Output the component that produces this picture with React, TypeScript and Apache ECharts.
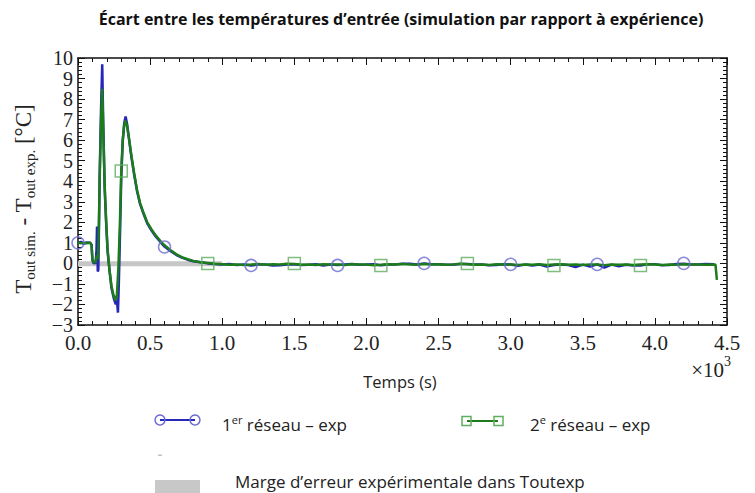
import React, { useEffect, useRef } from "react";
import * as echarts from "echarts";

// time (s), value (°C)
const blueEarly: [number, number][] = [
  [0, 1.0], [20, 1.05], [40, 0.95], [60, 1.02], [85, 1.0], [94, 0.9], [100, 0.15], [108, 0.0],
  [122, 0.02], [128, 0.6], [132, 1.8], [137, -0.4], [141, -0.3], [146, 2.0], [150, 4.2],
  [160, 7.6], [168, 9.7], [175, 6.8], [185, 3.6], [195, 2.0], [205, 0.6], [218, -0.3],
  [232, -1.2], [248, -1.7], [262, -2.0], [270, -1.8], [277, -2.4], [283, -1.0], [290, 1.0],
  [300, 4.2], [310, 5.9], [320, 6.8], [330, 7.15], [340, 6.8], [355, 6.0], [370, 5.2],
  [390, 4.3], [410, 3.5], [430, 2.9], [455, 2.4], [480, 1.95], [510, 1.6], [540, 1.3],
  [570, 1.05], [600, 0.82], [640, 0.6], [680, 0.42], [720, 0.28], [760, 0.18], [800, 0.1],
  [850, 0.05], [900, 0.0], [950, -0.03],
];
const blueTail: [number, number][] = [
  [1000, -0.05], [1050, -0.03], [1100, -0.08], [1150, -0.05], [1200, -0.1], [1250, -0.06],
  [1300, -0.06], [1350, -0.1], [1400, -0.09], [1450, -0.05], [1500, -0.04], [1550, -0.08],
  [1600, -0.07], [1650, -0.04], [1700, -0.1], [1750, -0.06], [1800, -0.08], [1850, -0.05],
  [1900, -0.03], [1950, -0.07], [2000, -0.06], [2050, -0.04], [2100, -0.09], [2150, -0.05],
  [2200, -0.05], [2250, -0.02], [2300, -0.02], [2350, -0.05], [2400, 0.0], [2450, -0.04],
  [2500, -0.04], [2550, -0.07], [2600, -0.07], [2650, -0.03], [2700, -0.03], [2750, -0.06],
  [2800, -0.06], [2850, -0.09], [2900, -0.08], [2950, -0.04], [3000, -0.05], [3050, -0.12],
  [3100, -0.06], [3150, -0.1], [3200, -0.06], [3250, -0.15], [3300, -0.08], [3350, -0.05],
  [3400, -0.08], [3450, -0.18], [3500, -0.06], [3550, -0.15], [3600, -0.05], [3650, -0.2],
  [3700, -0.06], [3750, -0.14], [3800, -0.07], [3850, -0.1], [3900, -0.1], [3950, -0.04],
  [4000, -0.04], [4050, -0.09], [4100, -0.08], [4150, -0.03], [4200, -0.02], [4250, -0.06],
  [4300, -0.06], [4350, -0.03], [4410, -0.04],
];
const greenEarly: [number, number][] = [
  [0, 1.0], [20, 0.98], [40, 1.0], [60, 0.98], [85, 1.0], [94, 0.9], [100, 0.2], [108, 0.05],
  [122, 0.05], [130, 0.4], [138, 0.2], [143, 1.2], [150, 4.0], [160, 7.0], [168, 8.5],
  [175, 6.6], [185, 3.8], [195, 2.1], [205, 0.7], [218, -0.3], [232, -1.1], [248, -1.6],
  [260, -1.8], [270, -1.5], [280, -0.2], [290, 1.8], [300, 4.5], [310, 6.0], [320, 6.7],
  [328, 6.95], [340, 6.7], [355, 6.0], [370, 5.25], [390, 4.35], [410, 3.55], [430, 2.95],
  [455, 2.45], [480, 2.0], [510, 1.65], [540, 1.35], [570, 1.1], [600, 0.88], [640, 0.65],
  [680, 0.45], [720, 0.3], [760, 0.2], [800, 0.12], [850, 0.06], [900, 0.02], [950, -0.02],
];
const greenTail: [number, number][] = [
  [1000, -0.04], [1050, -0.07], [1100, -0.05], [1150, -0.08], [1200, -0.06], [1250, -0.03],
  [1300, -0.07], [1350, -0.04], [1400, -0.06], [1450, -0.02], [1500, -0.03], [1550, -0.07],
  [1600, -0.05], [1650, -0.08], [1700, -0.04], [1750, -0.06], [1800, -0.05], [1850, -0.08],
  [1900, -0.04], [1950, -0.06], [2000, -0.05], [2050, -0.09], [2100, -0.07], [2150, -0.04],
  [2200, -0.06], [2250, -0.03], [2300, -0.05], [2350, -0.07], [2400, -0.03], [2450, -0.06],
  [2500, -0.04], [2550, -0.07], [2600, -0.05], [2650, -0.02], [2700, -0.04], [2750, -0.07],
  [2800, -0.05], [2850, -0.08], [2900, -0.04], [2950, -0.06], [3000, -0.05], [3050, -0.08],
  [3100, -0.05], [3150, -0.07], [3200, -0.04], [3250, -0.08], [3300, -0.06], [3350, -0.04],
  [3400, -0.07], [3450, -0.05], [3500, -0.08], [3550, -0.05], [3600, -0.06], [3650, -0.09],
  [3700, -0.05], [3750, -0.07], [3800, -0.05], [3850, -0.08], [3900, -0.06], [3950, -0.04],
  [4000, -0.06], [4050, -0.08], [4100, -0.05], [4150, -0.07], [4200, -0.04], [4250, -0.06],
  [4300, -0.05], [4350, -0.07], [4420, -0.06], [4430, -0.8],
];
const circleMarkers: [number, number][] = [
  [0, 1.0], [600, 0.8], [1200, -0.1], [1800, -0.1], [2400, 0.0], [3000, -0.05], [3600, -0.05], [4200, 0.0],
];
const squareMarkers: [number, number][] = [
  [300, 4.5], [900, 0.0], [1500, 0.0], [2100, -0.1], [2700, 0.0], [3300, -0.1], [3900, -0.1],
];
const bandRange: [number, number][] = [[0, -0.02], [1000, -0.02]];

const BLUE = "#2626b8";
const GREEN = "#1c7c1c";
const BLUE_MK = "#6b6bd0";
const GREEN_MK = "#5fae5f";
const SERIF = "'Liberation Serif', 'DejaVu Serif', serif";
const SANS = "'Open Sans', 'Noto Sans', sans-serif";

export default function App() {
  const ref = useRef<HTMLDivElement>(null);
  useEffect(() => {
    if (!ref.current) return;
    const chart = echarts.init(ref.current, null, { renderer: "svg" });
    const axisCommon = {
      type: "value" as const,
      axisLine: { show: true, onZero: false, lineStyle: { color: "#111", width: 1.5 } },
      axisTick: { show: true, inside: true, length: 7, lineStyle: { color: "#111", width: 1 } },
      minorTick: { show: true, splitNumber: 5, length: 4, lineStyle: { color: "#111", width: 1 } },
      splitLine: { show: false },
    };
    const xBase = { ...axisCommon, min: 0, max: 4500, interval: 500 };
    const yBase = { ...axisCommon, min: -3, max: 10, interval: 1 };
    const legendText = {
      n: { fontFamily: SANS, fontSize: 17, fill: "#222", lineHeight: 19, verticalAlign: "bottom" },
      p: { fontFamily: SANS, fontSize: 11, fill: "#222", lineHeight: 13, verticalAlign: "top" },
    };
    chart.setOption({
      animation: false,
      backgroundColor: "#ffffff",
      grid: { left: 78, right: 28, top: 58, bottom: 168 },
      xAxis: [
        {
          ...xBase,
          position: "bottom",
          axisLabel: {
            fontFamily: SERIF, fontSize: 21, color: "#222", margin: 7,
            showMinLabel: true, showMaxLabel: true,
            formatter: (v: number) => (v / 1000).toFixed(1),
          },
        },
        { ...xBase, position: "top", axisLabel: { show: false } },
      ],
      yAxis: [
        {
          ...yBase,
          position: "left",
          axisLabel: {
            fontFamily: SERIF, fontSize: 20, lineHeight: 20, color: "#222", margin: 5,
            showMinLabel: true, showMaxLabel: true, hideOverlap: false,
            formatter: (v: number) => (v < 0 ? "\u2212" + Math.abs(v) : String(v)),
          },
        },
        { ...yBase, position: "right", axisLabel: { show: false } },
      ],
      series: [
        {
          type: "line", data: bandRange, showSymbol: false, silent: true, z: 1,
          lineStyle: { color: "#c6c6c6", width: 5 },
        },
        {
          name: "1er réseau – exp", type: "line", data: [...blueEarly, ...blueTail],
          showSymbol: false, z: 2, lineStyle: { color: BLUE, width: 2.5 },
        },
        {
          name: "2e réseau – exp", type: "line", data: [...greenEarly, ...greenTail],
          showSymbol: false, z: 3, lineStyle: { color: GREEN, width: 2.5 },
        },
        {
          type: "scatter", data: circleMarkers, symbol: "circle", symbolSize: 12, z: 4,
          itemStyle: { color: "rgba(255,255,255,0)", borderColor: BLUE_MK, borderWidth: 1.5 },
        },
        {
          type: "scatter", data: squareMarkers, symbol: "rect", symbolSize: 12, z: 4,
          itemStyle: { color: "rgba(255,255,255,0)", borderColor: GREEN_MK, borderWidth: 1.5 },
        },
      ],
      graphic: [
        {
          type: "text", x: 401, y: 19,
          style: {
            text: "Écart entre les températures d’entrée (simulation par rapport à expérience)",
            fontFamily: SANS, fontWeight: 700, fontSize: 16, fill: "#111",
            align: "center", verticalAlign: "middle",
          },
        },
        {
          type: "text", x: 23, y: 199, rotation: Math.PI / 2,
          style: {
            text: "{b|T}{s|out sim.}{b| - T}{s|out exp.}{b| [°C]}",
            align: "center", verticalAlign: "middle",
            rich: {
              b: { fontFamily: SERIF, fontSize: 23, fill: "#222", lineHeight: 28, verticalAlign: "middle" },
              s: { fontFamily: SERIF, fontSize: 15, fill: "#222", lineHeight: 28, verticalAlign: "bottom" },
            },
          },
        },
        {
          type: "text", x: 400, y: 381,
          style: {
            text: "Temps (s)", fontFamily: SANS, fontSize: 16.5, fill: "#222",
            align: "center", verticalAlign: "middle",
          },
        },
        {
          type: "text", x: 731, y: 367,
          style: {
            text: "{a|×10}{p|3}", align: "right", verticalAlign: "middle",
            rich: {
              a: { fontFamily: SERIF, fontSize: 21, fill: "#222", lineHeight: 26, verticalAlign: "bottom" },
              p: { fontFamily: SERIF, fontSize: 14, fill: "#222", lineHeight: 26, verticalAlign: "top" },
            },
          },
        },
        // legend 1
        { type: "line", shape: { x1: 160, y1: 420, x2: 195, y2: 420 }, style: { stroke: BLUE, lineWidth: 2 } },
        { type: "circle", shape: { cx: 160, cy: 420, r: 5 }, style: { fill: "rgba(255,255,255,0)", stroke: BLUE_MK, lineWidth: 1.5 } },
        { type: "circle", shape: { cx: 195, cy: 420, r: 5 }, style: { fill: "rgba(255,255,255,0)", stroke: BLUE_MK, lineWidth: 1.5 } },
        {
          type: "text", x: 222, y: 423,
          style: { text: "{n|1}{p|er}{n| réseau – exp}", verticalAlign: "middle", rich: legendText },
        },
        // legend 2
        { type: "line", shape: { x1: 467, y1: 421, x2: 498, y2: 421 }, style: { stroke: GREEN, lineWidth: 2 } },
        { type: "rect", shape: { x: 462, y: 416.5, width: 9, height: 9 }, style: { fill: "rgba(255,255,255,0)", stroke: GREEN_MK, lineWidth: 1.5 } },
        { type: "rect", shape: { x: 494, y: 416.5, width: 9, height: 9 }, style: { fill: "rgba(255,255,255,0)", stroke: GREEN_MK, lineWidth: 1.5 } },
        {
          type: "text", x: 530, y: 423,
          style: { text: "{n|2}{p|e}{n| réseau – exp}", verticalAlign: "middle", rich: legendText },
        },
        // legend 3
        { type: "rect", shape: { x: 158, y: 454.5, width: 4, height: 1.5 }, style: { fill: "#b9c6cc" } },
        { type: "rect", shape: { x: 155, y: 480, width: 45, height: 13 }, style: { fill: "#c8c8c8" } },
        {
          type: "text", x: 235, y: 481,
          style: {
            text: "Marge d’erreur expérimentale dans Toutexp", fontFamily: SANS, fontSize: 17,
            fill: "#222", verticalAlign: "middle",
          },
        },
      ],
    });
    return () => chart.dispose();
  }, []);
  return (
    <div
      ref={ref}
      style={{ position: "fixed", left: 0, top: 0, width: 755, height: 493 }}
    />
  );
}
